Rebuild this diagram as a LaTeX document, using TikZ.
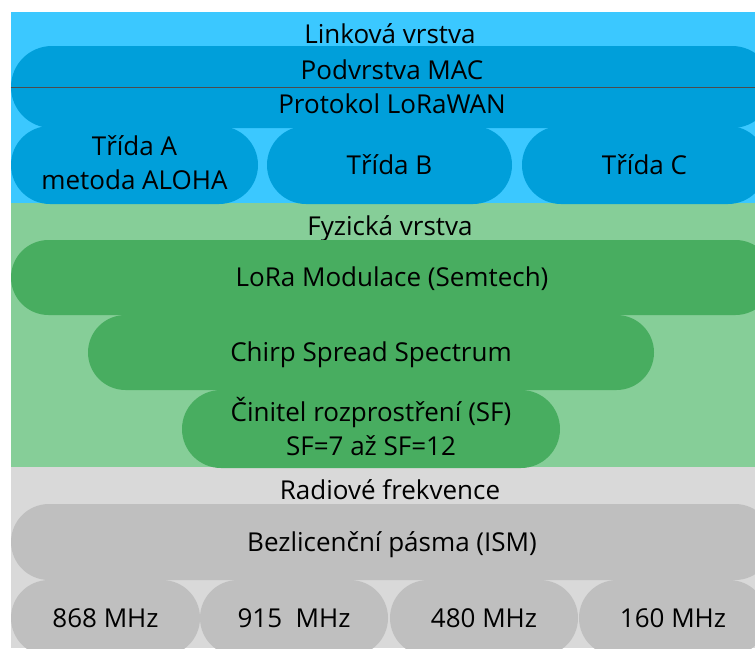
\documentclass[tikz,border=0pt]{standalone}
\usepackage{fontspec}
\setmainfont{Open Sans}
\usepackage{tikz}
\usetikzlibrary{shapes.misc}
\definecolor{linkbg}{HTML}{3BC8FF}
\definecolor{linkfg}{HTML}{009FDA}
\definecolor{phybg}{HTML}{86CE98}
\definecolor{phyfg}{HTML}{48AD60}
\definecolor{radbg}{HTML}{D9D9D9}
\definecolor{radfg}{HTML}{BFBFBF}

\begin{document}
\begin{tikzpicture}[x=0.5pt,y=-0.5pt,font=\fontsize{13}{17}\selectfont,
    pill/.style={rounded rectangle,inner sep=0pt,align=center,
      text height=9pt,text depth=0pt,minimum width=#1},
    twoline/.style={text height=#1},
    linkpill/.style={pill=#1,fill=linkfg,minimum height=39pt},
    phypill/.style={pill=#1,fill=phyfg,minimum height=37.5pt},
    radpill/.style={pill=#1,fill=radfg,minimum height=38pt},
    title/.style={anchor=base}]
  \useasboundingbox (0,0) rectangle (755,648);
  \clip (0,0) rectangle (755,648);
  \fill[linkbg] (11,12) rectangle (755,203);
  \fill[phybg] (11,203) rectangle (755,467);
  \fill[radbg] (11,467) rectangle (755,648);

  \node[title] (link) at (390,43) {Linková vrstva};
  \node[linkpill=381pt,minimum height=41pt,twoline=26pt] (lorawan) at (392,87)
    {Podvrstva MAC\\Protokol LoRaWAN};
  \draw[black!70,line width=0.5pt] (lorawan.west) -- (lorawan.east);
  \node[linkpill=123.5pt,twoline=24pt] (tridaA) at (134.5,165) {Třída A\\metoda ALOHA};
  \node[linkpill=122.5pt] (tridaB) at (389.5,165) {Třída B};
  \node[linkpill=122.5pt] (tridaC) at (644.5,165) {Třída C};

  \node[title] (phy) at (390,235) {Fyzická vrstva};
  \node[phypill=381pt] (lora) at (392,277.5) {LoRa Modulace (Semtech)};
  \node[phypill=283pt] (chirp) at (371,352.5) {Chirp Spread Spectrum};
  \node[phypill=189pt,minimum height=39pt,twoline=26pt] (sf) at (371,429)
    {Činitel rozprostření (SF)\\SF=7 až SF=12};

  \node[title] (rad) at (390,499) {Radiové frekvence};
  \node[radpill=381pt] (ism) at (392,542) {Bezlicenční pásma (ISM)};
  \node[radpill=94.5pt] (f868) at (105.5,618) {868 MHz};
  \node[radpill=94pt] (f915) at (294,618) {915~ MHz};
  \node[radpill=94pt] (f480) at (484,618) {480 MHz};
  \node[radpill=94pt] (f160) at (673,618) {160 MHz};
\end{tikzpicture}
\end{document}
